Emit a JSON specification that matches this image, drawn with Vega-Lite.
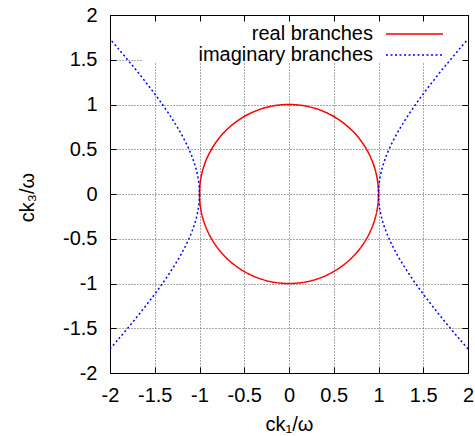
{
  "$schema": "https://vega.github.io/schema/vega-lite/v6.json",
  "width": 358,
  "height": 358,
  "autosize": {"type": "none"},
  "padding": {"left": 110, "top": 15, "right": 7, "bottom": 63},
  "background": "white",
  "config": {
    "view": {"stroke": null},
    "font": "Liberation Sans",
    "axis": {
      "domainColor": "black", "domainWidth": 1,
      "tickColor": "black", "tickSize": -6, "tickWidth": 1,
      "labelFont": "Liberation Sans", "labelFontSize": 20, "labelColor": "black",
      "titleFont": "Liberation Sans", "titleFontSize": 20, "titleFontWeight": "normal", "titleColor": "black",
      "gridColor": "#555555", "gridDash": [1, 2], "gridWidth": 1, "gridOpacity": 1,
      "labelFlush": false, "labelOverlap": false
    },
    "legend": {
      "labelFont": "Liberation Sans", "labelFontSize": 20, "labelColor": "black", "labelLimit": 0
    }
  },
  "datasets": {
    "circle": [
      {"i": 0, "x": 1, "y": 0, "branch": "real branches"},
      {"i": 1, "x": 0.985, "y": 0.174, "branch": "real branches"},
      {"i": 2, "x": 0.94, "y": 0.342, "branch": "real branches"},
      {"i": 3, "x": 0.866, "y": 0.5, "branch": "real branches"},
      {"i": 4, "x": 0.766, "y": 0.643, "branch": "real branches"},
      {"i": 5, "x": 0.643, "y": 0.766, "branch": "real branches"},
      {"i": 6, "x": 0.5, "y": 0.866, "branch": "real branches"},
      {"i": 7, "x": 0.342, "y": 0.94, "branch": "real branches"},
      {"i": 8, "x": 0.174, "y": 0.985, "branch": "real branches"},
      {"i": 9, "x": 0, "y": 1, "branch": "real branches"},
      {"i": 10, "x": -0.174, "y": 0.985, "branch": "real branches"},
      {"i": 11, "x": -0.342, "y": 0.94, "branch": "real branches"},
      {"i": 12, "x": -0.5, "y": 0.866, "branch": "real branches"},
      {"i": 13, "x": -0.643, "y": 0.766, "branch": "real branches"},
      {"i": 14, "x": -0.766, "y": 0.643, "branch": "real branches"},
      {"i": 15, "x": -0.866, "y": 0.5, "branch": "real branches"},
      {"i": 16, "x": -0.94, "y": 0.342, "branch": "real branches"},
      {"i": 17, "x": -0.985, "y": 0.174, "branch": "real branches"},
      {"i": 18, "x": -1, "y": 0, "branch": "real branches"},
      {"i": 19, "x": -0.985, "y": -0.174, "branch": "real branches"},
      {"i": 20, "x": -0.94, "y": -0.342, "branch": "real branches"},
      {"i": 21, "x": -0.866, "y": -0.5, "branch": "real branches"},
      {"i": 22, "x": -0.766, "y": -0.643, "branch": "real branches"},
      {"i": 23, "x": -0.643, "y": -0.766, "branch": "real branches"},
      {"i": 24, "x": -0.5, "y": -0.866, "branch": "real branches"},
      {"i": 25, "x": -0.342, "y": -0.94, "branch": "real branches"},
      {"i": 26, "x": -0.174, "y": -0.985, "branch": "real branches"},
      {"i": 27, "x": 0, "y": -1, "branch": "real branches"},
      {"i": 28, "x": 0.174, "y": -0.985, "branch": "real branches"},
      {"i": 29, "x": 0.342, "y": -0.94, "branch": "real branches"},
      {"i": 30, "x": 0.5, "y": -0.866, "branch": "real branches"},
      {"i": 31, "x": 0.643, "y": -0.766, "branch": "real branches"},
      {"i": 32, "x": 0.766, "y": -0.643, "branch": "real branches"},
      {"i": 33, "x": 0.866, "y": -0.5, "branch": "real branches"},
      {"i": 34, "x": 0.94, "y": -0.342, "branch": "real branches"},
      {"i": 35, "x": 0.985, "y": -0.174, "branch": "real branches"}
    ],
    "hyper": [
      {"side": "right", "i": 0, "x": 2.0, "y": -1.732, "branch": "imaginary branches"},
      {"side": "right", "i": 1, "x": 1.908, "y": -1.625, "branch": "imaginary branches"},
      {"side": "right", "i": 2, "x": 1.803, "y": -1.5, "branch": "imaginary branches"},
      {"side": "right", "i": 3, "x": 1.7, "y": -1.375, "branch": "imaginary branches"},
      {"side": "right", "i": 4, "x": 1.601, "y": -1.25, "branch": "imaginary branches"},
      {"side": "right", "i": 5, "x": 1.505, "y": -1.125, "branch": "imaginary branches"},
      {"side": "right", "i": 6, "x": 1.414, "y": -1.0, "branch": "imaginary branches"},
      {"side": "right", "i": 7, "x": 1.329, "y": -0.875, "branch": "imaginary branches"},
      {"side": "right", "i": 8, "x": 1.25, "y": -0.75, "branch": "imaginary branches"},
      {"side": "right", "i": 9, "x": 1.179, "y": -0.625, "branch": "imaginary branches"},
      {"side": "right", "i": 10, "x": 1.118, "y": -0.5, "branch": "imaginary branches"},
      {"side": "right", "i": 11, "x": 1.068, "y": -0.375, "branch": "imaginary branches"},
      {"side": "right", "i": 12, "x": 1.031, "y": -0.25, "branch": "imaginary branches"},
      {"side": "right", "i": 13, "x": 1.008, "y": -0.125, "branch": "imaginary branches"},
      {"side": "right", "i": 14, "x": 1.0, "y": 0, "branch": "imaginary branches"},
      {"side": "right", "i": 15, "x": 1.008, "y": 0.125, "branch": "imaginary branches"},
      {"side": "right", "i": 16, "x": 1.031, "y": 0.25, "branch": "imaginary branches"},
      {"side": "right", "i": 17, "x": 1.068, "y": 0.375, "branch": "imaginary branches"},
      {"side": "right", "i": 18, "x": 1.118, "y": 0.5, "branch": "imaginary branches"},
      {"side": "right", "i": 19, "x": 1.179, "y": 0.625, "branch": "imaginary branches"},
      {"side": "right", "i": 20, "x": 1.25, "y": 0.75, "branch": "imaginary branches"},
      {"side": "right", "i": 21, "x": 1.329, "y": 0.875, "branch": "imaginary branches"},
      {"side": "right", "i": 22, "x": 1.414, "y": 1.0, "branch": "imaginary branches"},
      {"side": "right", "i": 23, "x": 1.505, "y": 1.125, "branch": "imaginary branches"},
      {"side": "right", "i": 24, "x": 1.601, "y": 1.25, "branch": "imaginary branches"},
      {"side": "right", "i": 25, "x": 1.7, "y": 1.375, "branch": "imaginary branches"},
      {"side": "right", "i": 26, "x": 1.803, "y": 1.5, "branch": "imaginary branches"},
      {"side": "right", "i": 27, "x": 1.908, "y": 1.625, "branch": "imaginary branches"},
      {"side": "right", "i": 28, "x": 2.0, "y": 1.732, "branch": "imaginary branches"},
      {"side": "left", "i": 0, "x": -2.0, "y": -1.732, "branch": "imaginary branches"},
      {"side": "left", "i": 1, "x": -1.908, "y": -1.625, "branch": "imaginary branches"},
      {"side": "left", "i": 2, "x": -1.803, "y": -1.5, "branch": "imaginary branches"},
      {"side": "left", "i": 3, "x": -1.7, "y": -1.375, "branch": "imaginary branches"},
      {"side": "left", "i": 4, "x": -1.601, "y": -1.25, "branch": "imaginary branches"},
      {"side": "left", "i": 5, "x": -1.505, "y": -1.125, "branch": "imaginary branches"},
      {"side": "left", "i": 6, "x": -1.414, "y": -1.0, "branch": "imaginary branches"},
      {"side": "left", "i": 7, "x": -1.329, "y": -0.875, "branch": "imaginary branches"},
      {"side": "left", "i": 8, "x": -1.25, "y": -0.75, "branch": "imaginary branches"},
      {"side": "left", "i": 9, "x": -1.179, "y": -0.625, "branch": "imaginary branches"},
      {"side": "left", "i": 10, "x": -1.118, "y": -0.5, "branch": "imaginary branches"},
      {"side": "left", "i": 11, "x": -1.068, "y": -0.375, "branch": "imaginary branches"},
      {"side": "left", "i": 12, "x": -1.031, "y": -0.25, "branch": "imaginary branches"},
      {"side": "left", "i": 13, "x": -1.008, "y": -0.125, "branch": "imaginary branches"},
      {"side": "left", "i": 14, "x": -1.0, "y": 0, "branch": "imaginary branches"},
      {"side": "left", "i": 15, "x": -1.008, "y": 0.125, "branch": "imaginary branches"},
      {"side": "left", "i": 16, "x": -1.031, "y": 0.25, "branch": "imaginary branches"},
      {"side": "left", "i": 17, "x": -1.068, "y": 0.375, "branch": "imaginary branches"},
      {"side": "left", "i": 18, "x": -1.118, "y": 0.5, "branch": "imaginary branches"},
      {"side": "left", "i": 19, "x": -1.179, "y": 0.625, "branch": "imaginary branches"},
      {"side": "left", "i": 20, "x": -1.25, "y": 0.75, "branch": "imaginary branches"},
      {"side": "left", "i": 21, "x": -1.329, "y": 0.875, "branch": "imaginary branches"},
      {"side": "left", "i": 22, "x": -1.414, "y": 1.0, "branch": "imaginary branches"},
      {"side": "left", "i": 23, "x": -1.505, "y": 1.125, "branch": "imaginary branches"},
      {"side": "left", "i": 24, "x": -1.601, "y": 1.25, "branch": "imaginary branches"},
      {"side": "left", "i": 25, "x": -1.7, "y": 1.375, "branch": "imaginary branches"},
      {"side": "left", "i": 26, "x": -1.803, "y": 1.5, "branch": "imaginary branches"},
      {"side": "left", "i": 27, "x": -1.908, "y": 1.625, "branch": "imaginary branches"},
      {"side": "left", "i": 28, "x": -2.0, "y": 1.732, "branch": "imaginary branches"}
    ]
  },
  "resolve": {"axis": {"x": "independent", "y": "independent"}},
  "layer": [
    {
      "data": {"values": [{"box": "key"}]},
      "mark": {"type": "rect", "fill": "white"},
      "encoding": {
        "x": {"datum": -1.63, "type": "quantitative",
              "scale": {"domain": [-2, 2], "nice": false, "zero": false},
              "axis": {"orient": "bottom", "values": [-2, -1.5, -1, -0.5, 0, 0.5, 1, 1.5, 2], "grid": true,
                       "labelExpr": "'' + datum.value", "labelPadding": 18.5,
                       "title": "ck₁/ω", "titleBaseline": "alphabetic", "titleY": 57, "titleX": 179, "zindex": 0}},
        "x2": {"datum": 2},
        "y": {"datum": 1.464, "type": "quantitative",
              "scale": {"domain": [-2, 2], "nice": false, "zero": false},
              "axis": {"orient": "left", "values": [-2, -1.5, -1, -0.5, 0, 0.5, 1, 1.5, 2], "grid": true,
                       "labelExpr": "'' + datum.value", "labelPadding": 19,
                       "title": "ck₃/ω", "titleBaseline": "alphabetic", "titleX": -77, "titleY": 182, "zindex": 0}},
        "y2": {"datum": 2}
      }
    },
    {
      "data": {"name": "circle"},
      "mark": {"type": "line", "interpolate": "cardinal-closed", "strokeWidth": 1.5, "clip": true},
      "encoding": {
        "x": {"field": "x", "type": "quantitative",
              "axis": {"orient": "top", "values": [-2, -1.5, -1, -0.5, 0, 0.5, 1, 1.5, 2], "grid": false, "labels": false, "title": null, "zindex": 1}},
        "y": {"field": "y", "type": "quantitative",
              "axis": {"orient": "right", "values": [-2, -1.5, -1, -0.5, 0, 0.5, 1, 1.5, 2], "grid": false, "labels": false, "title": null, "zindex": 1}},
        "order": {"field": "i", "type": "quantitative"},
        "color": {"field": "branch", "type": "nominal",
                  "scale": {"domain": ["real branches", "imaginary branches"], "range": ["#ff0000", "#0000ff"]},
                  "legend": {"orient": "none", "legendX": 294, "legendY": 8.5, "title": null,
                             "symbolType": "M-25,0M-3,0H3", "symbolSize": 361, "symbolStrokeWidth": 1.5,
                             "labelAlign": "right", "labelOffset": -52, "rowPadding": 0}},
        "strokeDash": {"field": "branch", "type": "nominal",
                       "scale": {"domain": ["real branches", "imaginary branches"], "range": [[1, 0], [2, 2.5]]},
                       "legend": {"orient": "none", "legendX": 294, "legendY": 8.5, "title": null,
                                  "symbolType": "M-25,0M-3,0H3", "symbolSize": 361, "symbolStrokeWidth": 1.5,
                                  "labelAlign": "right", "labelOffset": -52, "rowPadding": 0}}
      }
    },
    {
      "data": {"name": "hyper"},
      "mark": {"type": "line", "interpolate": "cardinal", "strokeWidth": 1.5, "clip": true},
      "encoding": {
        "x": {"field": "x", "type": "quantitative", "axis": null},
        "y": {"field": "y", "type": "quantitative", "axis": null},
        "detail": {"field": "side", "type": "nominal"},
        "order": {"field": "i", "type": "quantitative"},
        "color": {"field": "branch", "type": "nominal"},
        "strokeDash": {"field": "branch", "type": "nominal"}
      }
    }
  ]
}
